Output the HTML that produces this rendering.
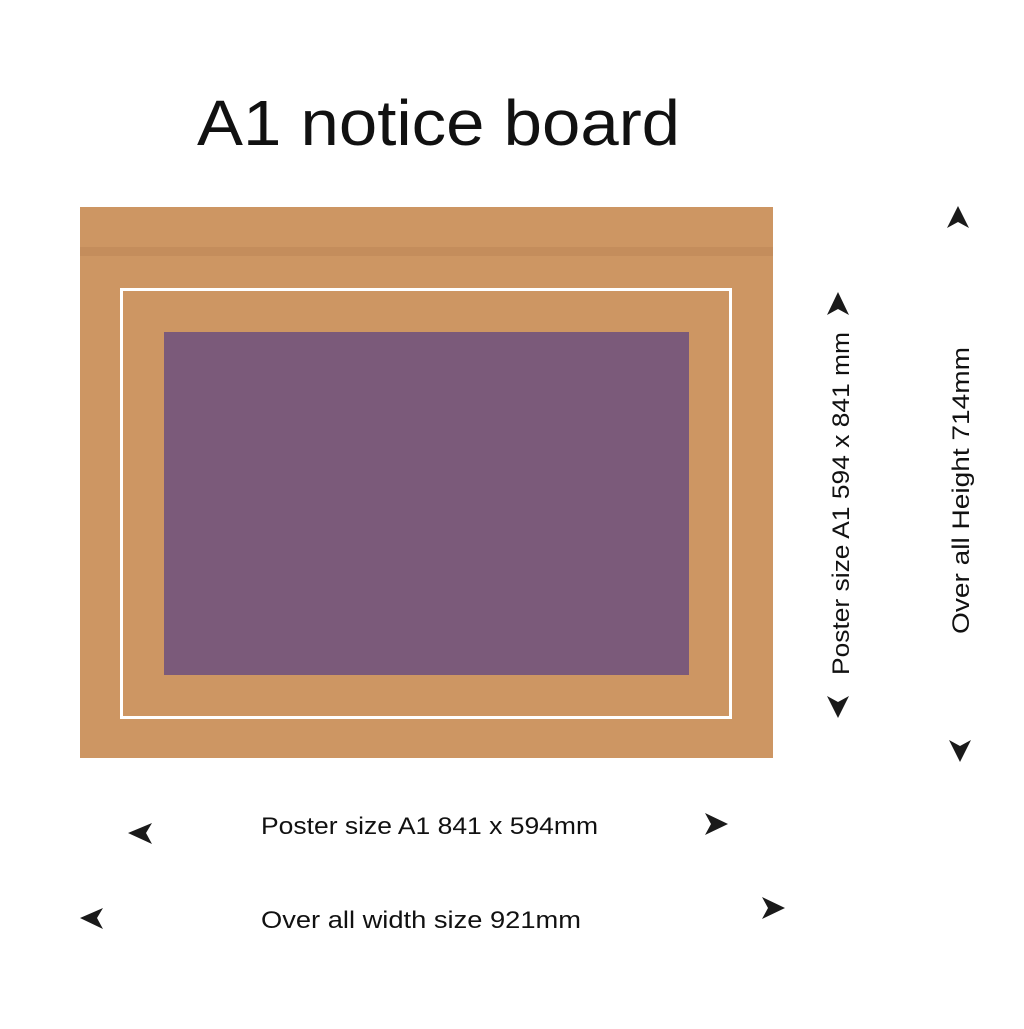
<!DOCTYPE html>
<html><head><style>html,body{margin:0;padding:0;background:#fff;}</style></head>
<body>
<svg width="1024" height="1024" viewBox="0 0 1024 1024" xmlns="http://www.w3.org/2000/svg" font-family="Liberation Sans, sans-serif" fill="#111">
<rect width="1024" height="1024" fill="#fff"/>
<text x="197" y="145" font-size="64" textLength="483" lengthAdjust="spacingAndGlyphs">A1 notice board</text>
<rect x="80" y="207" width="693" height="551" fill="#CD9663"/>
<rect x="80" y="247" width="693" height="9" fill="#C48D5C"/>
<rect x="121.5" y="289.5" width="609" height="428" fill="none" stroke="#fff" stroke-width="3"/>
<rect x="164" y="332" width="525" height="343" fill="#7B5A7A"/>
<!-- arrowheads -->
<g fill="#1a1a1a">
<path d="M958 206 L969 228 L958 222 L947 228 Z"/>
<path d="M838 292 L849 315 L838 309 L827 315 Z"/>
<path d="M838 718 L849 696 L838 702 L827 696 Z"/>
<path d="M960 762 L971 740 L960 746 L949 740 Z"/>
<path d="M128 833 L152 823 L146 833 L152 844 Z"/>
<path d="M80 918 L103 908 L97 918 L103 929 Z"/>
<path d="M728 824 L705 813 L711 824 L705 835 Z"/>
<path d="M785 908 L762 897 L768 908 L762 919 Z"/>
</g>
<text x="261" y="834" font-size="24" textLength="337" lengthAdjust="spacingAndGlyphs">Poster size A1 841 x 594mm</text>
<text x="261" y="928" font-size="24" textLength="320" lengthAdjust="spacingAndGlyphs">Over all width size 921mm</text>
<text transform="translate(849,675) rotate(-90)" font-size="24" textLength="343" lengthAdjust="spacingAndGlyphs">Poster size A1 594 x 841 mm</text>
<text transform="translate(969,634) rotate(-90)" font-size="24" textLength="287" lengthAdjust="spacingAndGlyphs">Over all Height  714mm</text>
</svg>
</body></html>
